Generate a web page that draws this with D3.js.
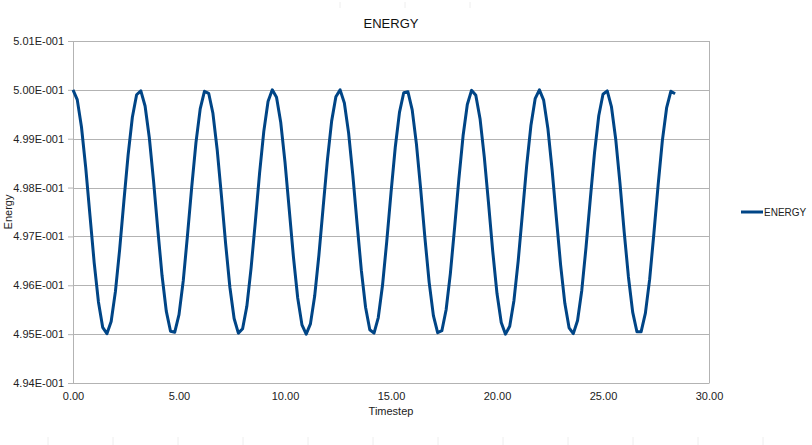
<!DOCTYPE html>
<html>
<head>
<meta charset="utf-8">
<script src="https://cdn.jsdelivr.net/npm/d3@7"></script>
<style>
  body { margin:0; background:#fff; }
  svg { font-family:"Liberation Sans", Arial, sans-serif; }
</style>
</head>
<body>
<svg id="chart"></svg>
<script>
var chartTitle = "ENERGY";
var seriesName = "ENERGY";

var timestep = [
  0.0, 0.2, 0.4, 0.6, 0.8, 1.0, 1.2, 1.4, 1.6, 1.8,
  2.0, 2.2, 2.4, 2.6, 2.8, 3.0, 3.2, 3.4, 3.6, 3.8,
  4.0, 4.2, 4.4, 4.6, 4.8, 5.0, 5.2, 5.4, 5.6, 5.8,
  6.0, 6.2, 6.4, 6.6, 6.8, 7.0, 7.2, 7.4, 7.6, 7.8,
  8.0, 8.2, 8.4, 8.6, 8.8, 9.0, 9.2, 9.4, 9.6, 9.8,
  10.0, 10.2, 10.4, 10.6, 10.8, 11.0, 11.2, 11.4, 11.6, 11.8,
  12.0, 12.2, 12.4, 12.6, 12.8, 13.0, 13.2, 13.4, 13.6, 13.8,
  14.0, 14.2, 14.4, 14.6, 14.8, 15.0, 15.2, 15.4, 15.6, 15.8,
  16.0, 16.2, 16.4, 16.6, 16.8, 17.0, 17.2, 17.4, 17.6, 17.8,
  18.0, 18.2, 18.4, 18.6, 18.8, 19.0, 19.2, 19.4, 19.6, 19.8,
  20.0, 20.2, 20.4, 20.6, 20.8, 21.0, 21.2, 21.4, 21.6, 21.8,
  22.0, 22.2, 22.4, 22.6, 22.8, 23.0, 23.2, 23.4, 23.6, 23.8,
  24.0, 24.2, 24.4, 24.6, 24.8, 25.0, 25.2, 25.4, 25.6, 25.8,
  26.0, 26.2, 26.4, 26.6, 26.8, 27.0, 27.2, 27.4, 27.6, 27.8,
  28.0, 28.2, 28.4
];

var energy = [
  0.50000, 0.49980, 0.49924, 0.49841, 0.49743, 0.49646, 0.49566, 0.49514, 0.49501, 0.49526,
  0.49587, 0.49673, 0.49772, 0.49867, 0.49944, 0.49990, 0.49998, 0.49967, 0.49902, 0.49813,
  0.49714, 0.49620, 0.49547, 0.49506, 0.49504, 0.49540, 0.49609, 0.49702, 0.49801, 0.49892,
  0.49961, 0.49997, 0.49993, 0.49952, 0.49878, 0.49784, 0.49685, 0.49596, 0.49532, 0.49502,
  0.49511, 0.49557, 0.49635, 0.49730, 0.49829, 0.49915, 0.49976, 0.50000, 0.49985, 0.49933,
  0.49852, 0.49755, 0.49657, 0.49574, 0.49519, 0.49500, 0.49521, 0.49578, 0.49662, 0.49760,
  0.49856, 0.49936, 0.49986, 0.50000, 0.49973, 0.49912, 0.49825, 0.49726, 0.49631, 0.49555,
  0.49509, 0.49502, 0.49534, 0.49600, 0.49690, 0.49789, 0.49882, 0.49954, 0.49994, 0.49996,
  0.49959, 0.49889, 0.49797, 0.49697, 0.49606, 0.49538, 0.49503, 0.49507, 0.49550, 0.49624,
  0.49718, 0.49817, 0.49906, 0.49970, 0.49999, 0.49989, 0.49941, 0.49863, 0.49768, 0.49669,
  0.49583, 0.49524, 0.49500, 0.49516, 0.49569, 0.49650, 0.49747, 0.49845, 0.49927, 0.49982,
  0.50000, 0.49979, 0.49921, 0.49836, 0.49738, 0.49642, 0.49563, 0.49513, 0.49501, 0.49528,
  0.49590, 0.49678, 0.49776, 0.49871, 0.49947, 0.49991, 0.49998, 0.49965, 0.49899, 0.49809,
  0.49709, 0.49617, 0.49545, 0.49505, 0.49505, 0.49543, 0.49612, 0.49706, 0.49805, 0.49896,
  0.49963, 0.49997, 0.49992
];

var xTicks = [0, 5, 10, 15, 20, 25, 30];
var yTicks = [0.494, 0.495, 0.496, 0.497, 0.498, 0.499, 0.500, 0.501];

var screen = { width:812, height:445 };
var margins = { top:41, bottom:62, left:73, right:103 };
var width = screen.width - margins.left - margins.right;
var height = screen.height - margins.top - margins.bottom;

var svg = d3.select("#chart")
            .attr("width", screen.width)
            .attr("height", screen.height);

// faint spreadsheet cell marks left in the screenshot
svg.append("g").selectAll("line")
   .data([340, 405, 470])
   .enter().append("line")
   .attr("x1", function(d){ return d; }).attr("x2", function(d){ return d; })
   .attr("y1", 2).attr("y2", 8)
   .attr("stroke", "#eeeeee");
svg.append("g").selectAll("line")
   .data(d3.range(48, 812, 65))
   .enter().append("line")
   .attr("x1", function(d){ return d; }).attr("x2", function(d){ return d; })
   .attr("y1", 437).attr("y2", 445)
   .attr("stroke", "#eeeeee");

var xScale = d3.scaleLinear()
               .domain([0, 30])
               .range([0, width]);
var yScale = d3.scaleLinear()
               .domain([0.494, 0.501])
               .range([height, 0]);

var plot = svg.append("g")
              .attr("transform", "translate(" + margins.left + "," + margins.top + ")");

// horizontal grid
plot.append("g").selectAll("line")
    .data(yTicks)
    .enter().append("line")
    .attr("x1", 0).attr("x2", width)
    .attr("y1", function(d){ return Math.round(yScale(d)) + 0.5; })
    .attr("y2", function(d){ return Math.round(yScale(d)) + 0.5; })
    .attr("stroke", "#b3b3b3");

// right border
plot.append("line")
    .attr("x1", width + 0.5).attr("x2", width + 0.5)
    .attr("y1", 0).attr("y2", height)
    .attr("stroke", "#b3b3b3");

var yAxis = d3.axisLeft(yScale)
              .tickValues(yTicks)
              .tickSize(5)
              .tickFormat(function(d){ return d3.format(".2f")(d * 10) + "E-001"; });
var gy = plot.append("g").call(yAxis);
gy.select(".domain").attr("stroke", "#b3b3b3").attr("d", "M0.5,0V" + height);
gy.selectAll(".tick line").attr("stroke", "#b3b3b3");
gy.selectAll(".tick text").attr("font-size", "11px").attr("fill", "#222").attr("x", -9);

var xAxis = d3.axisBottom(xScale)
              .tickValues(xTicks)
              .tickSize(0)
              .tickFormat(d3.format(".2f"));
var gx = plot.append("g")
             .attr("transform", "translate(0," + height + ")")
             .call(xAxis);
gx.select(".domain").attr("stroke", "#b3b3b3");
gx.selectAll(".tick text").attr("font-size", "11px").attr("fill", "#222").attr("dy", "1.25em");

var points = timestep.map(function(t, i){ return { t:t, e:energy[i] }; });

var line = d3.line()
             .x(function(d){ return xScale(d.t); })
             .y(function(d){ return yScale(d.e); });

plot.append("path")
    .datum(points)
    .attr("d", line)
    .attr("fill", "none")
    .attr("stroke", "#004586")
    .attr("stroke-width", 3)
    .attr("stroke-linejoin", "round");

// titles
svg.append("text")
   .attr("x", 391).attr("y", 28)
   .attr("text-anchor", "middle")
   .attr("font-size", "13px")
   .attr("fill", "#111")
   .text(chartTitle);

svg.append("text")
   .attr("x", margins.left + width / 2).attr("y", 415)
   .attr("text-anchor", "middle")
   .attr("font-size", "11px")
   .attr("fill", "#222")
   .text("Timestep");

svg.append("text")
   .attr("transform", "translate(12," + (margins.top + height / 2) + ") rotate(-90)")
   .attr("text-anchor", "middle")
   .attr("font-size", "11px")
   .attr("fill", "#222")
   .text("Energy");

// legend
var legend = svg.append("g").attr("transform", "translate(741,212)");
legend.append("line")
      .attr("x1", 0).attr("x2", 22)
      .attr("y1", 0).attr("y2", 0)
      .attr("stroke", "#004586")
      .attr("stroke-width", 3);
legend.append("text")
      .attr("x", 23).attr("y", 4)
      .attr("font-size", "10px")
      .attr("fill", "#222")
      .text(seriesName);
</script>
</body>
</html>
